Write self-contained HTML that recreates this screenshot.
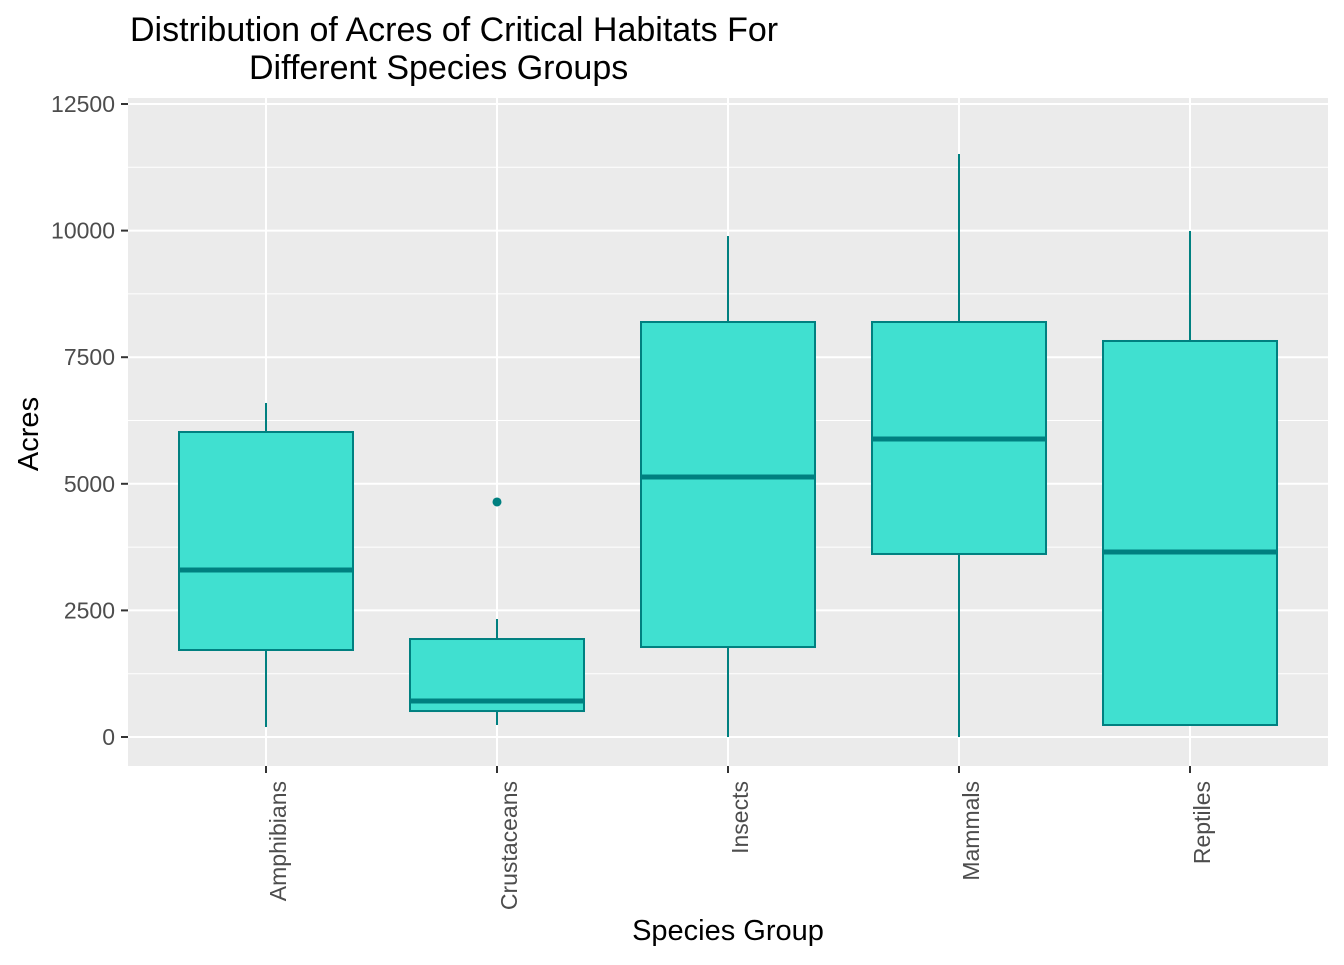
<!DOCTYPE html>
<html><head><meta charset="utf-8"><style>
body{margin:0;background:#fff;}
svg text{font-family:"Liberation Sans",Arial,sans-serif;}
</style></head><body>
<svg id="chart" width="1344" height="960">
<rect x="0" y="0" width="1344" height="960" fill="#fff"/>
<rect x="128" y="98" width="1200" height="668" fill="#EBEBEB"/>
<g id="grid"></g><g id="boxes"></g><g id="axes"></g>
<text x="130" y="41" font-size="34" fill="#000">Distribution of Acres of Critical Habitats For</text>
<text x="249" y="79" font-size="34" fill="#000">Different Species Groups</text>
<text x="728" y="940" font-size="29" text-anchor="middle" fill="#000">Species Group</text>
<text transform="translate(38,434) rotate(-90)" font-size="29" text-anchor="middle" fill="#000">Acres</text>
</svg>
<script>
const categories=["Amphibians","Crustaceans","Insects","Mammals","Reptiles"];
const whiskerLow=[197,237,0,0,230];
const q1=[1718,513,1777,3614,237];
const medians=[3298,711,5134,5885,3653];
const q3=[6023,1935,8195,8195,7820];
const whiskerHigh=[6596,2330,9893,11513,9992];
const outliersCat=[1];
const outliersVal=[4641];
const yTicks=[0,2500,5000,7500,10000,12500];

const NS="http://www.w3.org/2000/svg";
const y=v=>737-v*(633/12500);
const x=i=>266+i*231;
const hw=87;
function mk(tag,attrs,parent){const e=document.createElementNS(NS,tag);for(const k in attrs)e.setAttribute(k,attrs[k]);document.getElementById(parent).appendChild(e);return e;}
for(let i=0;i<yTicks.length-1;i++){
  const m=(yTicks[i]+yTicks[i+1])/2;
  const g=mk('line',{x1:128,x2:1328,y1:y(m),y2:y(m),stroke:'#fff','stroke-width':1},'grid');
  
  
}
yTicks.forEach(t=>{
  const g=mk('line',{x1:128,x2:1328,y1:y(t),y2:y(t),stroke:'#fff','stroke-width':2},'grid');
  
  
  const tk=mk('line',{x1:121,x2:128,y1:y(t),y2:y(t),stroke:'#333','stroke-width':2},'axes');
  
  
  const tx=mk('text',{x:115,y:y(t)+8,'font-size':23,'text-anchor':'end',fill:'#4D4D4D'},'axes');
  tx.textContent=t;
  
  
});
categories.forEach((c,i)=>{
  const g=mk('line',{x1:x(i),x2:x(i),y1:98,y2:766,stroke:'#fff','stroke-width':2},'grid');
  
  
  const tk=mk('line',{x1:x(i),x2:x(i),y1:766,y2:773,stroke:'#333','stroke-width':2},'axes');
  
  
  const tx=mk('text',{transform:`translate(${x(i)+20},781) rotate(-90)`,'font-size':23,'text-anchor':'end',fill:'#4D4D4D'},'axes');
  tx.textContent=c;
  
  
  const w1=mk('line',{x1:x(i),x2:x(i),y1:y(whiskerHigh[i]),y2:y(q3[i]),stroke:'#008080','stroke-width':2},'boxes');
  
  
  const w2=mk('line',{x1:x(i),x2:x(i),y1:y(q1[i]),y2:y(whiskerLow[i]),stroke:'#008080','stroke-width':2},'boxes');
  
  
  const b=mk('rect',{x:x(i)-hw,y:y(q3[i]),width:2*hw,height:y(q1[i])-y(q3[i]),fill:'#40E0D0',stroke:'#008080','stroke-width':2},'boxes');
  
  
  const md=mk('line',{x1:x(i)-hw,x2:x(i)+hw,y1:y(medians[i]),y2:y(medians[i]),stroke:'#008080','stroke-width':5},'boxes');
  
  
});
outliersCat.forEach((ci,k)=>{
  const o=mk('circle',{cx:x(ci),cy:y(outliersVal[k]),r:4.5,fill:'#008080'},'boxes');
  
  
});
</script>
</body></html>
